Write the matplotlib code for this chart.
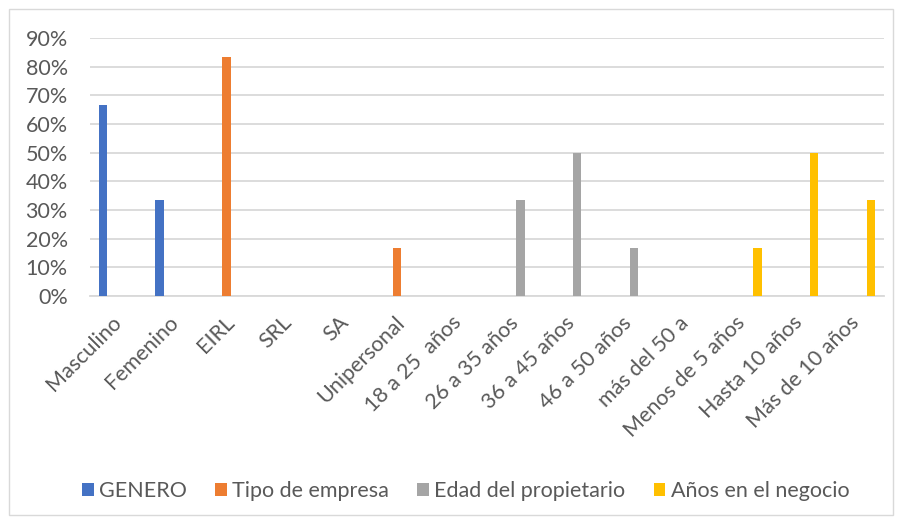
import matplotlib.pyplot as plt
from matplotlib.patches import Rectangle
from matplotlib.ticker import PercentFormatter

plt.rcParams['font.family'] = ['Lato', 'DejaVu Sans']

categories = ['Masculino', 'Femenino', 'EIRL', 'SRL', 'SA', 'Unipersonal',
              '18 a 25  años', '26 a 35 años', '36 a 45 años', '46 a 50 años',
              'más del 50 a', 'Menos de 5 años', 'Hasta 10 años', 'Más de 10 años']
series_names = ['GENERO', 'Tipo de empresa', 'Edad del propietario', 'Años en el negocio']
colors = ['#4472C4', '#ED7D31', '#A5A5A5', '#FFC000']

genero = [4/6, 2/6, 0, 0, 0, 0, 0, 0, 0, 0, 0, 0, 0, 0]
tipo_empresa = [0, 0, 5/6, 0, 0, 1/6, 0, 0, 0, 0, 0, 0, 0, 0]
edad = [0, 0, 0, 0, 0, 0, 0, 2/6, 3/6, 1/6, 0, 0, 0, 0]
anios = [0, 0, 0, 0, 0, 0, 0, 0, 0, 0, 0, 1/6, 3/6, 2/6]

text_color = '#595959'
grid_color = '#D9D9D9'
fs = 15.5

fig = plt.figure(figsize=(8.99, 5.22), dpi=100)
ax = fig.add_axes([0.1001, 0.433, 0.8832, 0.494])

x = range(len(categories))
width = 0.15
offsets = [-0.27, -0.09, 0.09, 0.27]
for vals, name, color, off in zip([genero, tipo_empresa, edad, anios],
                                  series_names, colors, offsets):
    ax.bar([i + off for i in x], vals, width, color=color, label=name, zorder=3)

ax.set_xlim(-0.5, len(categories) - 0.5)
ax.set_ylim(0, 0.9)
ax.set_yticks([i / 10 for i in range(10)])
ax.yaxis.set_major_formatter(PercentFormatter(1.0, decimals=0))
ax.grid(axis='y', color=grid_color, linewidth=1.3, zorder=0)
ax.tick_params(length=0, labelsize=fs, labelcolor=text_color)
ax.tick_params(axis='y', pad=16)
for s in ['left', 'right', 'top']:
    ax.spines[s].set_visible(False)
ax.spines['bottom'].set_color(grid_color)
ax.spines['bottom'].set_linewidth(1.3)

ax.set_xticks(list(x))
ax.set_xticklabels(categories, rotation=45, ha='right', va='center',
                   rotation_mode='anchor')
ax.tick_params(axis='x', pad=17)

fig.legend(loc='center', bbox_to_anchor=(0.518, 0.06), ncol=4, frameon=False,
           fontsize=fs, labelcolor=text_color, handlelength=0.55,
           handleheight=0.55, handletextpad=0.25, columnspacing=1.3)

fig.patches.append(Rectangle((9 / 899, 7 / 522), 884 / 899, 506 / 522,
                             transform=fig.transFigure, fill=False,
                             edgecolor=grid_color, linewidth=1))

fig.savefig('out.png')
